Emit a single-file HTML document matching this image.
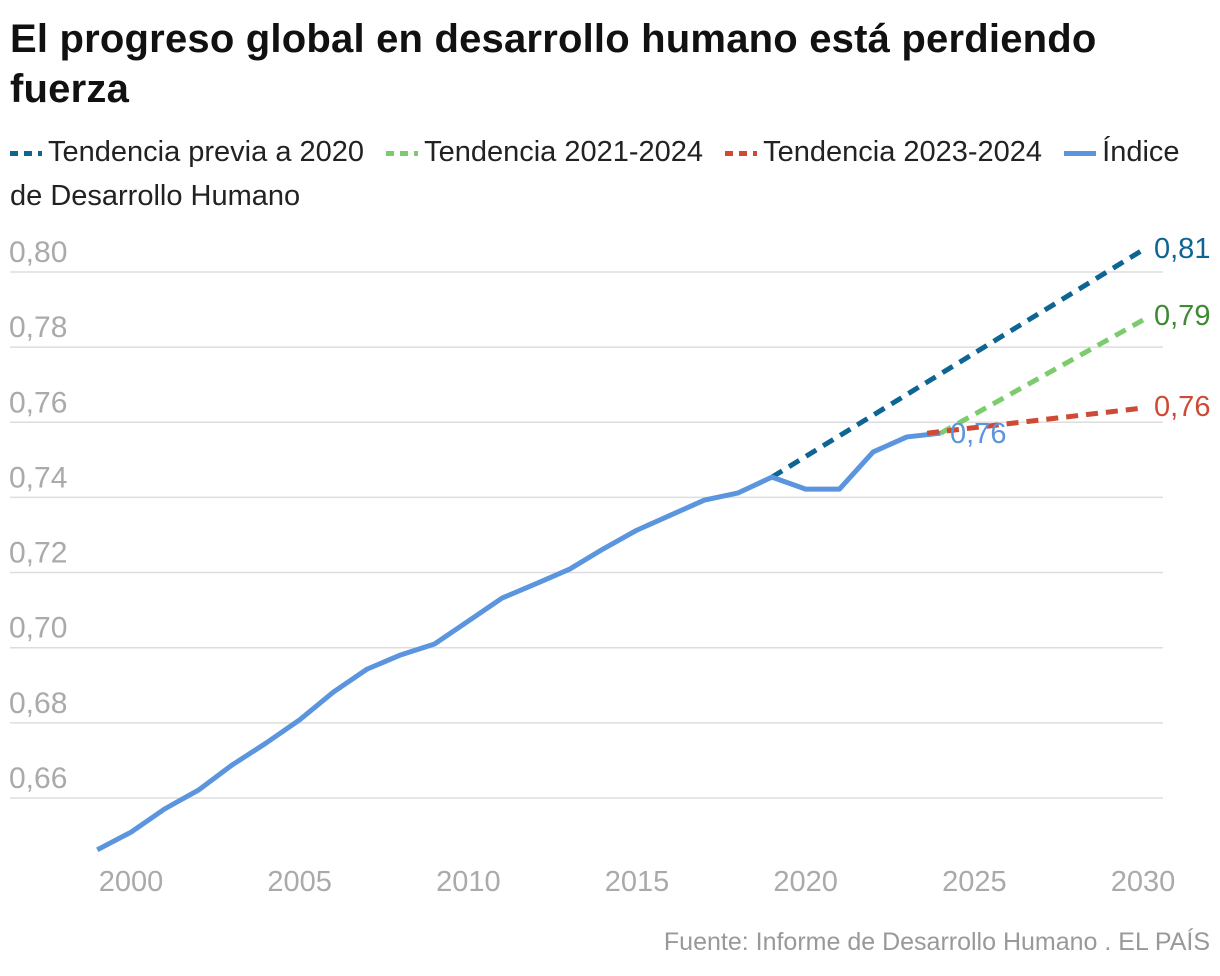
<!DOCTYPE html>
<html><head><meta charset="utf-8"><style>
body{margin:0;background:#fff;width:1220px;height:976px;overflow:hidden;font-family:"Liberation Sans",sans-serif;}
h1{position:absolute;left:10px;top:14px;margin:0;font-size:40px;line-height:50px;font-weight:bold;color:#111;letter-spacing:0.2px;width:1210px;}
#legend{position:absolute;left:10px;top:130px;font-size:29px;line-height:44px;color:#222;width:1210px;white-space:nowrap;}
#legend>span+span{margin-left:14px;}
.sw{display:inline-block;width:32px;height:5px;vertical-align:middle;margin-right:6px;}
#src{position:absolute;right:10px;top:928px;font-size:25px;color:#999;}
svg{position:absolute;left:0;top:0;}
</style></head><body>
<h1>El progreso global en desarrollo humano está perdiendo<br>fuerza</h1>
<div id="legend">
<span><span class="sw" style="background:repeating-linear-gradient(90deg,#0d6593 0 8px,transparent 8px 14px)"></span>Tendencia previa a 2020</span>
<span><span class="sw" style="background:repeating-linear-gradient(90deg,#7ccc6e 0 8px,transparent 8px 14px)"></span>Tendencia 2021-2024</span>
<span><span class="sw" style="background:repeating-linear-gradient(90deg,#cf4a35 0 8px,transparent 8px 14px)"></span>Tendencia 2023-2024</span>
<span><span class="sw" style="background:#5b95dd"></span>Índice<br>de Desarrollo Humano</span>
</div>
<svg id="chart" width="1220" height="976"></svg>
<div id="src">Fuente: Informe de Desarrollo Humano . EL PAÍS</div>
<script>
const years=[1999,2000,2001,2002,2003,2004,2005,2006,2007,2008,2009,2010,2011,2012,2013,2014,2015,2016,2017,2018,2019,2020,2021,2022,2023,2024];
const idh=[0.6462,0.6509,0.6571,0.6621,0.6688,0.6746,0.6808,0.6882,0.6943,0.6981,0.7010,0.7071,0.7132,0.7170,0.7209,0.7263,0.7313,0.7353,0.7393,0.7412,0.7454,0.7422,0.7422,0.7521,0.7561,0.7571];
const trendPrevX=[2019,2030], trendPrevY=[0.7454,0.8059];
const trend21X=[2024,2030], trend21Y=[0.7571,0.7872];
const trend23X=[2024,2030], trend23Y=[0.7571,0.7638];
const yTicks=[0.66,0.68,0.70,0.72,0.74,0.76,0.78,0.80];
const xTicks=[2000,2005,2010,2015,2020,2025,2030];
const NS="http://www.w3.org/2000/svg";
const svg=document.getElementById('chart');
const X=v=>131+(v-2000)*(1143-131)/30;
const Y=v=>272+(0.80-v)*3757;
function el(t,a){const e=document.createElementNS(NS,t);for(const k in a)e.setAttribute(k,a[k]);svg.appendChild(e);return e;}
yTicks.forEach(t=>{
 const g=el('line',{x1:10,x2:1163,y1:Y(t),y2:Y(t),stroke:'#ddd','stroke-width':1.5});
 
 
 const tx=el('text',{x:9,y:Y(t)-10,'font-size':30,fill:'#aaa','font-family':'Liberation Sans'});
 tx.textContent=t.toFixed(2).replace('.',',');
 
 
});
xTicks.forEach(t=>{
 const tx=el('text',{x:X(t),y:891,'font-size':29,fill:'#aaa','text-anchor':'middle','font-family':'Liberation Sans'});
 tx.textContent=t;
 
 
});
function line(xs,ys,color,dash,name){
 const p=el('polyline',{points:xs.map((x,i)=>X(x)+','+Y(ys[i])).join(' '),fill:'none',stroke:color,'stroke-width':5,'stroke-dasharray':dash||'','stroke-linejoin':'round'});
 
 
}
line(trendPrevX,trendPrevY,'#0d6593','12 8','trend-prev-2020');
line(trend21X,trend21Y,'#7ccc6e','12 8','trend-2021-2024');
line(years,idh,'#5b95dd','','idh-line');
line([2023.6,2030],[0.7571,trend23Y[1]],'#cf4a35','12 8','trend-2023-2024');
function lab(x,y,t,c,n){const tx=el('text',{x:x,y:y,'font-size':29,fill:c,'font-family':'Liberation Sans'});tx.textContent=t;}
lab(1154,Y(trendPrevY[1])+8,trendPrevY[1].toFixed(2).replace('.',','),'#0d6593','label-prev');
lab(1154,Y(trend21Y[1])+5,trend21Y[1].toFixed(2).replace('.',','),'#3d8a33','label-2021');
lab(1154,Y(trend23Y[1])+8,trend23Y[1].toFixed(2).replace('.',','),'#cf4a35','label-2023');
lab(950,Y(idh[idh.length-1])+10,idh[idh.length-1].toFixed(2).replace('.',','),'#5b95dd','label-idh');
</script>
</body></html>
